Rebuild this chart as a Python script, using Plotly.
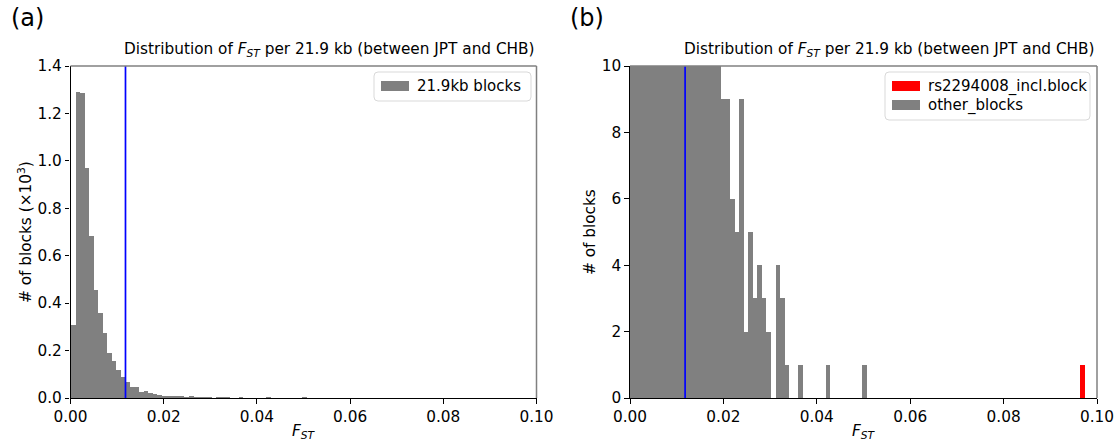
import numpy as np
import plotly.graph_objects as go

# ---- data -------------------------------------------------------------
# F_ST histogram: 100 equal-width bins between the smallest and largest block value
fst_min = 0.0
fst_max = 0.0974
n_bins = 100

# number of 21.9 kb blocks per bin (all blocks except the highlighted one)
other_counts = [
    309, 1289, 1285, 969, 683, 456, 358, 274, 189, 157,
    119, 88, 69, 45, 48, 27, 31, 20, 15, 14,
    9, 9, 6, 5, 9, 2, 5, 3, 4, 3,
    2, 0, 4, 3, 1, 0, 0, 1, 0, 0,
    0, 0, 0, 1, 0, 0, 0, 0, 0, 0,
    0, 1, 0, 0, 0, 0, 0, 0, 0, 0,
    0, 0, 0, 0, 0, 0, 0, 0, 0, 0,
    0, 0, 0, 0, 0, 0, 0, 0, 0, 0,
    0, 0, 0, 0, 0, 0, 0, 0, 0, 0,
    0, 0, 0, 0, 0, 0, 0, 0, 0, 0,
]
# F_ST of the block containing rs2294008
highlight_fst = [0.0970]
# reference threshold drawn as a vertical line
threshold_fst = 0.0118

x_ticks = [0.00, 0.02, 0.04, 0.06, 0.08, 0.10]
y_ticks_a = [0.0, 0.2, 0.4, 0.6, 0.8, 1.0, 1.2, 1.4]
y_ticks_b = [0, 2, 4, 6, 8, 10]

# ---- derived bins -----------------------------------------------------
edges = np.linspace(fst_min, fst_max, n_bins + 1)
width = edges[1] - edges[0]
centers = (edges[:-1] + edges[1:]) / 2
other = np.array(other_counts)
highlight, _ = np.histogram(highlight_fst, bins=edges)

W, H = 1119, 445
GREY = "#808080"
FONT = "DejaVu Sans"
FS = 15.3


def px(x):
    return x / W


def py(y):
    return 1 - y / H


ax_a = (70.5, 536.5)
ax_b = (630.0, 1097.0)
ax_top, ax_bot = 66.0, 398.0

fig = go.Figure()

# panel (a): block counts in thousands
fig.add_trace(go.Bar(
    x=centers, y=other / 1000, width=width,
    marker=dict(color=GREY, line=dict(width=0)),
    name="21.9kb blocks", xaxis="x", yaxis="y", showlegend=False,
))

# panel (b): stacked, highlighted block at the bottom
fig.add_trace(go.Bar(
    x=centers, y=highlight, width=width,
    marker=dict(color="#ff0000", line=dict(width=0)),
    name="rs2294008_incl.block", xaxis="x2", yaxis="y2", showlegend=False,
))
fig.add_trace(go.Bar(
    x=centers, y=other, width=width,
    marker=dict(color=GREY, line=dict(width=0)),
    name="other_blocks", xaxis="x2", yaxis="y2", showlegend=False,
))

# threshold lines
for xa, ya, ytop in (("x", "y", 1.4), ("x2", "y2", 10)):
    fig.add_trace(go.Scatter(
        x=[threshold_fst, threshold_fst], y=[0, ytop], mode="lines",
        line=dict(color="#0000ff", width=1.7),
        xaxis=xa, yaxis=ya, showlegend=False, hoverinfo="skip",
    ))

axis_common = dict(
    showgrid=False, zeroline=False, showline=True, linecolor="black",
    linewidth=1.2, ticks="outside", ticklen=4.5, tickwidth=1, tickcolor="black",
    tickfont=dict(family=FONT, size=FS, color="black"), automargin=False,
)

fig.update_layout(
    width=W, height=H,
    margin=dict(l=0, r=0, t=0, b=0, pad=0, autoexpand=False),
    paper_bgcolor="white", plot_bgcolor="white",
    barmode="stack", bargap=0,
    font=dict(family=FONT, size=FS, color="black"),
    xaxis=dict(domain=[px(ax_a[0]), px(ax_a[1])], range=[0, 0.1],
               tickvals=x_ticks, tickformat=".2f", anchor="y", **axis_common),
    yaxis=dict(domain=[py(ax_bot), py(ax_top)], range=[0, 1.4],
               tickvals=y_ticks_a, tickformat=".1f", anchor="x", **axis_common),
    xaxis2=dict(domain=[px(ax_b[0]), px(ax_b[1])], range=[0, 0.1],
                tickvals=x_ticks, tickformat=".2f", anchor="y2", **axis_common),
    yaxis2=dict(domain=[py(ax_bot), py(ax_top)], range=[0, 10],
                tickvals=y_ticks_b, tickformat="d", anchor="x2", **axis_common),
)

shapes = []
annotations = []
title_text = "Distribution of <i>F</i><sub><i>ST</i></sub> per 21.9 kb (between JPT and CHB)"
fst_label = "<i>F</i><sub><i>ST</i></sub>"

for (x0, x1), letter, ylabel, ylx in (
    (ax_a, "(a)", "# of blocks (×10<sup>3</sup>)", 25),
    (ax_b, "(b)", "# of blocks", 590),
):
    # light top and right frame lines
    shapes.append(dict(type="line", xref="paper", yref="paper",
                       x0=px(x0), x1=px(x1), y0=py(ax_top), y1=py(ax_top),
                       line=dict(color=GREY, width=1.5)))
    shapes.append(dict(type="line", xref="paper", yref="paper",
                       x0=px(x1), x1=px(x1), y0=py(ax_top), y1=py(ax_bot),
                       line=dict(color=GREY, width=1.5)))
    annotations.append(dict(text=title_text, xref="paper", yref="paper",
                            x=px(x1), y=py(62), xanchor="right", yanchor="bottom",
                            showarrow=False, font=dict(size=FS)))
    annotations.append(dict(text=letter, xref="paper", yref="paper",
                            x=px(x0 - 62), y=py(18), xanchor="left", yanchor="middle",
                            showarrow=False, font=dict(size=24)))
    annotations.append(dict(text=fst_label, xref="paper", yref="paper",
                            x=px((x0 + x1) / 2), y=py(432), xanchor="center",
                            yanchor="middle", showarrow=False, font=dict(size=FS)))
    annotations.append(dict(text=ylabel, xref="paper", yref="paper",
                            x=px(ylx), y=py((ax_top + ax_bot) / 2), xanchor="center",
                            yanchor="middle", textangle=-90, showarrow=False,
                            font=dict(size=FS)))


def legend_box(x0, y0, x1, y1, entries):
    r = 4
    path = (f"M {px(x0 + r)},{py(y0)} L {px(x1 - r)},{py(y0)} "
            f"Q {px(x1)},{py(y0)} {px(x1)},{py(y0 + r)} "
            f"L {px(x1)},{py(y1 - r)} Q {px(x1)},{py(y1)} {px(x1 - r)},{py(y1)} "
            f"L {px(x0 + r)},{py(y1)} Q {px(x0)},{py(y1)} {px(x0)},{py(y1 - r)} "
            f"L {px(x0)},{py(y0 + r)} Q {px(x0)},{py(y0)} {px(x0 + r)},{py(y0)} Z")
    shapes.append(dict(type="path", xref="paper", yref="paper", path=path,
                       line=dict(color="#d9d9d9", width=1),
                       fillcolor="rgba(255,255,255,0.8)"))
    for i, (label, color) in enumerate(entries):
        yc = y0 + 14 + i * 19
        shapes.append(dict(type="rect", xref="paper", yref="paper",
                           x0=px(x0 + 7), x1=px(x0 + 35),
                           y0=py(yc - 5), y1=py(yc + 5),
                           line=dict(width=0), fillcolor=color))
        annotations.append(dict(text=label, xref="paper", yref="paper",
                                x=px(x0 + 41), y=py(yc), xanchor="left",
                                yanchor="middle", showarrow=False,
                                font=dict(size=15)))


legend_box(374, 72, 531, 101, [("21.9kb blocks", GREY)])
legend_box(885, 72, 1090, 120, [("rs2294008_incl.block", "#ff0000"),
                               ("other_blocks", GREY)])

fig.update_layout(shapes=shapes, annotations=annotations)
fig.write_html("out.html")
